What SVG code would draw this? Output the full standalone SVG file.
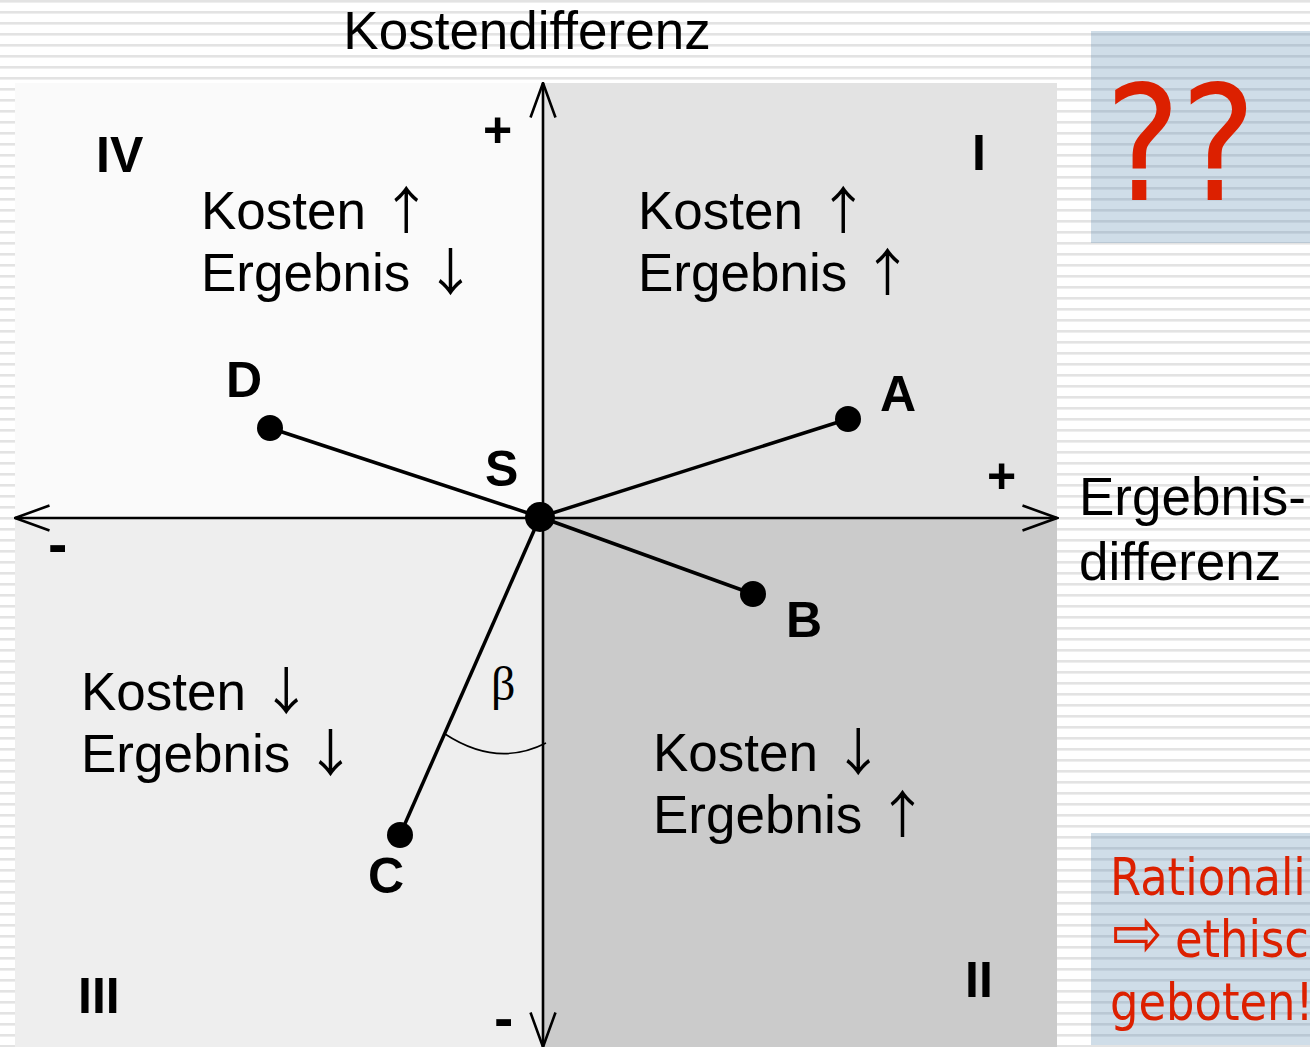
<svg xmlns="http://www.w3.org/2000/svg" width="1310" height="1047" viewBox="0 0 1310 1047">
  <defs>
    <pattern id="stripes" patternUnits="userSpaceOnUse" width="20" height="11">
      <rect x="0" y="0" width="20" height="11" fill="#ffffff"/>
      <rect x="0" y="0" width="20" height="2.6" fill="#e3e3e3"/>
    </pattern>
    <pattern id="bluestripes" patternUnits="userSpaceOnUse" width="20" height="11">
      <rect x="0" y="0" width="20" height="11" fill="#cfdde8"/>
      <rect x="0" y="0" width="20" height="2.6" fill="#bac8d4"/>
    </pattern>
    <marker id="open" markerUnits="userSpaceOnUse" viewBox="0 0 37 28" refX="35.5" refY="14" markerWidth="37" markerHeight="28" orient="auto-start-reverse">
      <path d="M1,1.5 L35.5,14 L1,26.5" fill="none" stroke="#000" stroke-width="2.6"/>
    </marker>
  </defs>
  <style>
    .lbl { font-family: "Liberation Sans", Arial, sans-serif; font-size: 53px; fill: #000; }
    .arr { font-family: "Noto Sans CJK JP", "Liberation Sans", sans-serif; font-size: 51px; }
    .bold { font-family: "Liberation Sans", Arial, sans-serif; font-size: 50px; font-weight: bold; fill: #000; }
    .red { font-family: "DejaVu Sans", Verdana, sans-serif; fill: #dc2000; }
    .axis { stroke: #000; stroke-width: 2.6; fill: none; }
    .conn { stroke: #000; stroke-width: 3.5; fill: none; }
    .pt { fill: #000; }
  </style>

  <rect x="0" y="0" width="1310" height="1047" fill="url(#stripes)"/>

  <g id="quadrants">
    <rect id="q4" x="15" y="83" width="528" height="435" fill="#fafafa"/>
    <rect id="q1" x="543" y="83" width="514" height="435" fill="#e3e3e3"/>
    <rect id="q3" x="15" y="518" width="528" height="529" fill="#eeeeee"/>
    <rect id="q2" x="543" y="518" width="514" height="529" fill="#cbcbcb"/>
  </g>

  <g id="boxes">
    <rect id="box-top" x="1091" y="31" width="219" height="212" fill="url(#bluestripes)"/>
    <rect id="box-bottom" x="1091" y="833" width="219" height="212" fill="url(#bluestripes)"/>
  </g>

  <g id="axes">
    <line class="axis" x1="15" y1="518" x2="1057" y2="518" marker-start="url(#open)" marker-end="url(#open)"/>
    <line class="axis" x1="543" y1="1047" x2="543" y2="83" marker-start="url(#open)" marker-end="url(#open)"/>
  </g>

  <g id="axis-labels">
    <text class="lbl" x="527" y="49" text-anchor="middle">Kostendifferenz</text>
    <text class="lbl" x="1079" y="515">Ergebnis-</text>
    <text class="lbl" x="1079" y="580">differenz</text>
    <text class="bold" x="483" y="147">+</text>
    <text class="bold" x="987" y="493">+</text>
    <text class="bold" x="48" y="564" style="font-size:58px">-</text>
    <text class="bold" x="494" y="1038" style="font-size:58px">-</text>
  </g>

  <g id="quadrant-labels">
    <text class="bold" x="96" y="172">IV</text>
    <text class="bold" x="972" y="170">I</text>
    <text class="bold" x="78" y="1013">III</text>
    <text class="bold" x="965" y="997">II</text>
    <text class="lbl" x="201" y="229">Kosten <tspan class="arr">↑</tspan></text>
    <text class="lbl" x="201" y="291">Ergebnis <tspan class="arr">↓</tspan></text>
    <text class="lbl" x="638" y="229">Kosten <tspan class="arr">↑</tspan></text>
    <text class="lbl" x="638" y="291">Ergebnis <tspan class="arr">↑</tspan></text>
    <text class="lbl" x="81" y="710">Kosten <tspan class="arr">↓</tspan></text>
    <text class="lbl" x="81" y="772">Ergebnis <tspan class="arr">↓</tspan></text>
    <text class="lbl" x="653" y="771">Kosten <tspan class="arr">↓</tspan></text>
    <text class="lbl" x="653" y="833">Ergebnis <tspan class="arr">↑</tspan></text>
  </g>

  <g id="connectors">
    <line class="conn" x1="540" y1="517" x2="848" y2="419"/>
    <line class="conn" x1="540" y1="517" x2="753" y2="594"/>
    <line class="conn" x1="540" y1="517" x2="400" y2="835"/>
    <line class="conn" x1="540" y1="517" x2="270" y2="428"/>
  </g>

  <g id="angle-beta">
    <path d="M445,734 Q497,768 546,743" fill="none" stroke="#000" stroke-width="1.6"/>
    <text x="491" y="700" style="font-family:'Liberation Serif','Times New Roman',serif;font-size:48px;fill:#000">β</text>
  </g>

  <g id="node-S">
    <circle class="pt" cx="540" cy="517" r="15"/>
    <text class="bold" x="485" y="486">S</text>
  </g>
  <g id="node-A">
    <circle class="pt" cx="848" cy="419" r="13"/>
    <text class="bold" x="880" y="411">A</text>
  </g>
  <g id="node-B">
    <circle class="pt" cx="753" cy="594" r="13"/>
    <text class="bold" x="786" y="637">B</text>
  </g>
  <g id="node-C">
    <circle class="pt" cx="400" cy="835" r="13"/>
    <text class="bold" x="368" y="893">C</text>
  </g>
  <g id="node-D">
    <circle class="pt" cx="270" cy="428" r="13"/>
    <text class="bold" x="226" y="397">D</text>
  </g>

  <g id="red-notes">
    <text class="red" transform="translate(1105 200) scale(0.89 1)" style="font-size:160px">??</text>
    <text class="red" transform="translate(1110 895) scale(0.862 1)" style="font-size:52px">Rationali</text>
    <text class="red" transform="translate(1112 957) scale(0.862 1)" style="font-size:52px"><tspan x="0" style="font-size:70px">⇨</tspan> <tspan x="73">ethisc</tspan></text>
    <text class="red" transform="translate(1110 1020) scale(0.862 1)" style="font-size:52px">geboten!</text>
  </g>
</svg>
